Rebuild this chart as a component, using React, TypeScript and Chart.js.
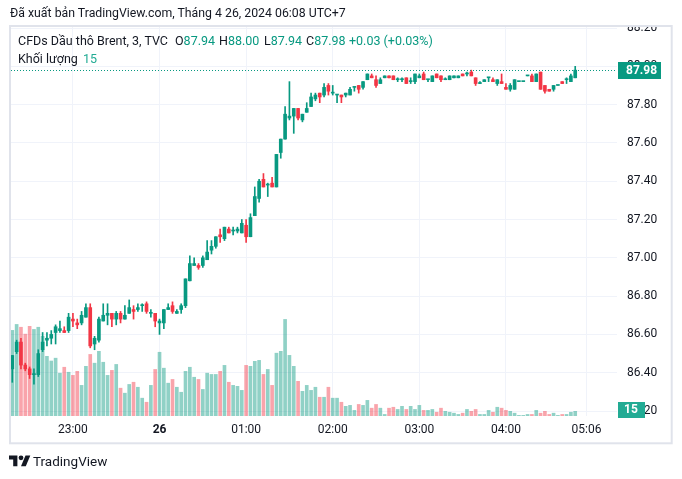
import React, { useEffect, useRef } from 'react';
import { Chart, registerables } from 'chart.js';

Chart.register(...registerables);

// ---- Data (3-minute candles, CFDs Dầu thô Brent, TVC) ----
const opens = [
  86.42, 86.51, 86.56, 86.44, 86.42, 86.39, 86.39, 86.52, 86.57, 86.58,
  86.61, 86.62, 86.62, 86.62, 86.68, 86.66, 86.66, 86.69, 86.74, 86.55,
  86.57, 86.67, 86.70, 86.71, 86.68, 86.71, 86.68, 86.71, 86.73, 86.73,
  86.75, 86.76, 86.71, 86.71, 86.66, 86.66, 86.73, 86.75, 86.71, 86.73,
  86.75, 86.88, 86.96, 86.96, 86.96, 86.99, 87.04, 87.06, 87.12, 87.10,
  87.15, 87.14, 87.14, 87.13, 87.17, 87.11, 87.22, 87.31, 87.41, 87.38,
  87.39, 87.37, 87.55, 87.62, 87.73, 87.74, 87.78, 87.72, 87.76, 87.79,
  87.83, 87.86, 87.85, 87.90, 87.86, 87.85, 87.85, 87.85, 87.85, 87.89,
  87.90, 87.89, 87.93, 87.95, 87.93, 87.91, 87.94, 87.95, 87.95, 87.93,
  87.93, 87.94, 87.92, 87.92, 87.94, 87.96, 87.93, 87.92, 87.96, 87.95,
  87.93, 87.93, 87.94, 87.94, 87.96, 87.96, 87.97, 87.94, 87.91, 87.92,
  87.94, 87.93, 87.91, 87.92, 87.89, 87.88, 87.88, 87.92, 87.92, 87.95,
  87.95, 87.92, 87.97, 87.90, 87.88, 87.88, 87.90, 87.92, 87.93, 87.92,
  87.94,
];
const highs = [
  86.49, 86.57, 86.58, 86.45, 86.43, 86.42, 86.52, 86.61, 86.61, 86.62,
  86.65, 86.67, 86.64, 86.71, 86.71, 86.68, 86.72, 86.76, 86.76, 86.59,
  86.69, 86.76, 86.76, 86.71, 86.72, 86.72, 86.75, 86.78, 86.75, 86.76,
  86.76, 86.77, 86.73, 86.71, 86.68, 86.73, 86.76, 86.77, 86.73, 86.76,
  86.89, 87.01, 87.00, 86.97, 87.01, 87.09, 87.09, 87.11, 87.15, 87.16,
  87.16, 87.16, 87.16, 87.20, 87.20, 87.23, 87.37, 87.41, 87.44, 87.39,
  87.42, 87.54, 87.62, 87.79, 87.92, 87.78, 87.78, 87.75, 87.81, 87.86,
  87.86, 87.86, 87.91, 87.91, 87.90, 87.85, 87.85, 87.86, 87.89, 87.89,
  87.90, 87.92, 87.96, 87.96, 87.95, 87.94, 87.95, 87.95, 87.95, 87.94,
  87.94, 87.94, 87.94, 87.96, 87.96, 87.97, 87.93, 87.95, 87.96, 87.95,
  87.94, 87.95, 87.95, 87.95, 87.96, 87.97, 87.98, 87.94, 87.92, 87.93,
  87.94, 87.94, 87.93, 87.96, 87.91, 87.91, 87.93, 87.92, 87.92, 87.95,
  87.96, 87.96, 87.97, 87.90, 87.88, 87.90, 87.90, 87.92, 87.94, 87.96,
  88.00,
];
const lows = [
  86.35, 86.50, 86.42, 86.41, 86.37, 86.34, 86.38, 86.51, 86.54, 86.55,
  86.55, 86.61, 86.61, 86.61, 86.64, 86.63, 86.65, 86.69, 86.53, 86.52,
  86.56, 86.67, 86.65, 86.64, 86.65, 86.66, 86.68, 86.71, 86.68, 86.72,
  86.72, 86.71, 86.69, 86.64, 86.60, 86.63, 86.73, 86.71, 86.71, 86.71,
  86.74, 86.88, 86.96, 86.94, 86.95, 86.99, 87.02, 87.05, 87.08, 87.09,
  87.13, 87.12, 87.13, 87.13, 87.08, 87.11, 87.22, 87.29, 87.37, 87.32,
  87.37, 87.37, 87.52, 87.62, 87.72, 87.65, 87.72, 87.71, 87.76, 87.79,
  87.82, 87.81, 87.84, 87.85, 87.85, 87.81, 87.81, 87.84, 87.85, 87.87,
  87.86, 87.88, 87.93, 87.94, 87.89, 87.91, 87.94, 87.94, 87.93, 87.92,
  87.92, 87.91, 87.91, 87.91, 87.94, 87.93, 87.92, 87.92, 87.94, 87.92,
  87.93, 87.93, 87.94, 87.94, 87.95, 87.95, 87.95, 87.90, 87.91, 87.92,
  87.92, 87.92, 87.90, 87.91, 87.88, 87.87, 87.88, 87.92, 87.92, 87.95,
  87.92, 87.92, 87.88, 87.86, 87.87, 87.87, 87.90, 87.91, 87.91, 87.92,
  87.94,
];
const closes = [
  86.49, 86.56, 86.44, 86.42, 86.39, 86.39, 86.50, 86.56, 86.58, 86.60,
  86.64, 86.63, 86.61, 86.69, 86.67, 86.65, 86.70, 86.74, 86.54, 86.58,
  86.68, 86.70, 86.71, 86.68, 86.71, 86.68, 86.70, 86.74, 86.72, 86.74,
  86.75, 86.72, 86.71, 86.67, 86.67, 86.73, 86.74, 86.72, 86.72, 86.75,
  86.89, 86.97, 86.97, 86.95, 87.00, 87.03, 87.06, 87.11, 87.11, 87.16,
  87.13, 87.14, 87.15, 87.18, 87.11, 87.21, 87.32, 87.40, 87.37, 87.38,
  87.37, 87.54, 87.62, 87.75, 87.74, 87.78, 87.73, 87.75, 87.78, 87.84,
  87.85, 87.84, 87.89, 87.87, 87.86, 87.85, 87.84, 87.86, 87.88, 87.89,
  87.88, 87.92, 87.96, 87.94, 87.90, 87.93, 87.95, 87.94, 87.93, 87.93,
  87.93, 87.91, 87.92, 87.96, 87.95, 87.93, 87.93, 87.95, 87.94, 87.93,
  87.93, 87.95, 87.95, 87.95, 87.95, 87.96, 87.95, 87.91, 87.91, 87.93,
  87.94, 87.92, 87.93, 87.91, 87.88, 87.90, 87.93, 87.92, 87.92, 87.95,
  87.92, 87.96, 87.88, 87.87, 87.87, 87.90, 87.90, 87.91, 87.93, 87.95,
  87.98,
];
const volumes = [
  274, 293, 284, 262, 287, 277, 284, 255, 191, 176,
  185, 137, 156, 140, 130, 143, 98, 159, 197, 169,
  207, 172, 130, 146, 165, 89, 73, 101, 108, 92,
  57, 44, 98, 149, 204, 153, 105, 117, 92, 76,
  143, 156, 124, 117, 85, 137, 133, 133, 143, 162,
  108, 98, 95, 82, 162, 159, 175, 178, 133, 149,
  98, 201, 207, 309, 194, 159, 111, 79, 98, 82,
  92, 60, 60, 92, 57, 57, 44, 31, 34, 18,
  37, 34, 50, 25, 37, 25, 5, 25, 28, 21,
  31, 21, 31, 21, 34, 18, 18, 21, 12, 25,
  15, 12, 9, 5, 9, 21, 15, 21, 5, 5,
  18, 12, 28, 25, 18, 15, 9, 2, 2, 5,
  5, 18, 9, 15, 5, 9, 2, 5, 5, 12,
  15,
];
// time-axis ticks (position in bar index) and labels
const timeTickIndex = [14, 34, 54, 74, 94, 114, 132.6];
const timeTickLabels = ['23:00', '26', '01:00', '02:00', '03:00', '04:00', '05:06'];
const priceTicks = [86.2, 86.4, 86.6, 86.8, 87.0, 87.2, 87.4, 87.6, 87.8, 88.0, 88.2];

const UP = '#089981';
const DOWN = '#f23645';
const UP_VOL = 'rgba(8,153,129,0.45)';
const DOWN_VOL = 'rgba(242,54,69,0.45)';
const VOL_LABEL = '#22ab94';
const TEXT = '#131722';
const GRID = '#f0f3fa';
const FONT = 'Roboto, "Noto Sans", "DejaVu Sans", sans-serif';

const n = closes.length;
const last = n - 1;
const lastPrice = closes[last];
const lastVolume = volumes[last];
const change = closes[last] - closes[last - 1];
const changePct = (change / closes[last - 1]) * 100;
const sign = (v: number) => (v >= 0 ? '+' : '');

export default function App() {
  const canvasRef = useRef<HTMLCanvasElement>(null);

  useEffect(() => {
    const cv = canvasRef.current;
    if (!cv) return;
    const idx = closes.map((_, i) => i);
    const up = (i: number) => closes[i] >= opens[i];

    const overlay = {
      id: 'tvOverlay',
      afterDraw(chart: any) {
        const ctx = chart.ctx;
        const area = chart.chartArea;
        const y = chart.scales.y;
        const yv = chart.scales.yv;
        ctx.save();
        // clip top price label like the reference
        ctx.fillStyle = '#ffffff';
        ctx.fillRect(area.right - 2, 0, 682 - area.right + 2, 25);
        // frame
        ctx.strokeStyle = '#e0e3eb';
        ctx.lineWidth = 2;
        ctx.strokeRect(10, 26, 661.7, 417.3);
        // last price dotted line
        const py = Math.round(y.getPixelForValue(lastPrice)) + 0.5;
        ctx.strokeStyle = UP;
        ctx.lineWidth = 1;
        ctx.setLineDash([1, 2]);
        ctx.beginPath();
        ctx.moveTo(area.left, py);
        ctx.lineTo(area.right, py);
        ctx.stroke();
        ctx.setLineDash([]);
        // last price label
        ctx.fillStyle = UP;
        ctx.fillRect(618, py - 8.5, 43, 17);
        ctx.fillStyle = '#ffffff';
        ctx.font = `bold 12px ${FONT}`;
        ctx.textBaseline = 'middle';
        ctx.textAlign = 'left';
        ctx.fillText(lastPrice.toFixed(2), 626, py + 0.5);
        // last volume label
        const vy = Math.round(yv.getPixelForValue(lastVolume)) - 1.5;
        ctx.fillStyle = VOL_LABEL;
        ctx.fillRect(618, vy - 7.5, 27, 16);
        ctx.fillStyle = '#ffffff';
        ctx.fillText(String(lastVolume), 624, vy + 0.5);
        ctx.restore();
      },
    };

    const chart = new Chart(cv, {
      type: 'bar',
      data: {
        datasets: [
          {
            type: 'bar',
            label: 'Thân nến',
            data: idx.map((i) => ({ x: i, y: [opens[i], closes[i]] })) as any,
            backgroundColor: idx.map((i) => (up(i) ? UP : DOWN)),
            barThickness: 3,
            minBarLength: 1,
            grouped: false,
            yAxisID: 'y',
            order: 1,
          } as any,
          {
            type: 'bar',
            label: 'Bóng nến',
            data: idx.map((i) => ({ x: i, y: [lows[i], highs[i]] })) as any,
            backgroundColor: idx.map((i) => (up(i) ? UP : DOWN)),
            barThickness: 1,
            grouped: false,
            yAxisID: 'y',
            order: 2,
          } as any,
          {
            type: 'bar',
            label: 'Khối lượng',
            data: idx.map((i) => ({ x: i, y: volumes[i] })) as any,
            backgroundColor: idx.map((i) => (up(i) ? UP_VOL : DOWN_VOL)),
            barThickness: 3,
            grouped: false,
            yAxisID: 'yv',
            order: 3,
          } as any,
        ],
      },
      options: {
        responsive: false,
        animation: false,
        events: [],
        layout: { padding: { left: 11, top: 26, right: 10, bottom: 36 } },
        plugins: { legend: { display: false }, tooltip: { enabled: false } },
        scales: {
          x: {
            type: 'linear',
            position: 'bottom',
            offset: false,
            min: -0.3,
            max: 139.65,
            grid: { color: GRID, drawTicks: false, lineWidth: 1, offset: false },
            border: { display: false },
            afterBuildTicks: (s: any) => {
              s.ticks = timeTickIndex.map((v) => ({ value: v }));
            },
            afterFit: (s: any) => {
              s.height = 27;
            },
            ticks: {
              autoSkip: false,
              maxRotation: 0,
              padding: 7,
              color: TEXT,
              font: (c: any) => ({ family: FONT, size: 12, weight: c.index === 1 ? 'bold' : 'normal' }),
              callback: (_v: any, i: number) => timeTickLabels[i],
            },
          } as any,
          y: {
            type: 'linear',
            position: 'right',
            min: 86.174,
            max: 88.2105,
            grid: { color: GRID, drawTicks: false, lineWidth: 1 },
            border: { display: false },
            afterBuildTicks: (s: any) => {
              s.ticks = priceTicks.map((v) => ({ value: v }));
            },
            afterFit: (s: any) => {
              s.width = 55;
            },
            ticks: {
              padding: 10,
              color: TEXT,
              font: { family: FONT, size: 12 },
              callback: (v: any) => Number(v).toFixed(2),
            },
          } as any,
          yv: {
            type: 'linear',
            display: false,
            min: 0,
            max: 1248,
          },
        },
      },
      plugins: [overlay],
    } as any);
    return () => chart.destroy();
  }, []);

  const abs = (left: number, top: number, extra: any = {}) => ({
    position: 'absolute' as const,
    left,
    top,
    whiteSpace: 'nowrap' as const,
    lineHeight: '16px',
    ...extra,
  });
  const LF = 12.5;

  return (
    <div
      style={{
        position: 'fixed',
        left: 0,
        top: 0,
        width: 682,
        height: 479,
        background: '#ffffff',
        fontFamily: FONT,
        color: TEXT,
        overflow: 'hidden',
      }}
    >
      <canvas
        ref={canvasRef}
        width={682}
        height={479}
        style={{ position: 'absolute', left: 0, top: 0, width: 682, height: 479 }}
      />
      <div style={abs(10, 5, { fontSize: 12.3 })}>
        Đã xuất bản TradingView.com, Tháng 4 26, 2024 06:08 UTC+7
      </div>
      <div style={abs(18, 33, { fontSize: LF })}>CFDs Dầu thô Brent, 3, TVC</div>
      <div style={abs(175, 33, { fontSize: LF })}>
        O<span style={{ color: UP }}>{opens[last].toFixed(2)}</span>
      </div>
      <div style={abs(219, 33, { fontSize: LF })}>
        H<span style={{ color: UP }}>{highs[last].toFixed(2)}</span>
      </div>
      <div style={abs(264, 33, { fontSize: LF })}>
        L<span style={{ color: UP }}>{lows[last].toFixed(2)}</span>
      </div>
      <div style={abs(306, 33, { fontSize: LF })}>
        C<span style={{ color: UP }}>{closes[last].toFixed(2)}</span>
      </div>
      <div style={abs(349, 33, { fontSize: LF, color: UP })}>
        {`${sign(change)}${change.toFixed(2)} (${sign(changePct)}${changePct.toFixed(2)}%)`}
      </div>
      <div style={abs(18, 51, { fontSize: LF })}>Khối lượng</div>
      <div style={abs(83, 51, { fontSize: LF, color: VOL_LABEL })}>{String(lastVolume)}</div>
      <svg
        width={21.6}
        height={16.8}
        viewBox="0 0 36 28"
        style={{ position: 'absolute', left: 9, top: 453 }}
      >
        <path d="M14 22H7V11H0V4h14v18z" fill={TEXT} />
        <circle cx="20" cy="8" r="4" fill={TEXT} />
        <path d="M28 22h-8l7.5-18h8L28 22z" fill={TEXT} />
      </svg>
      <div style={abs(33, 453, { fontSize: 13.5 })}>TradingView</div>
    </div>
  );
}
